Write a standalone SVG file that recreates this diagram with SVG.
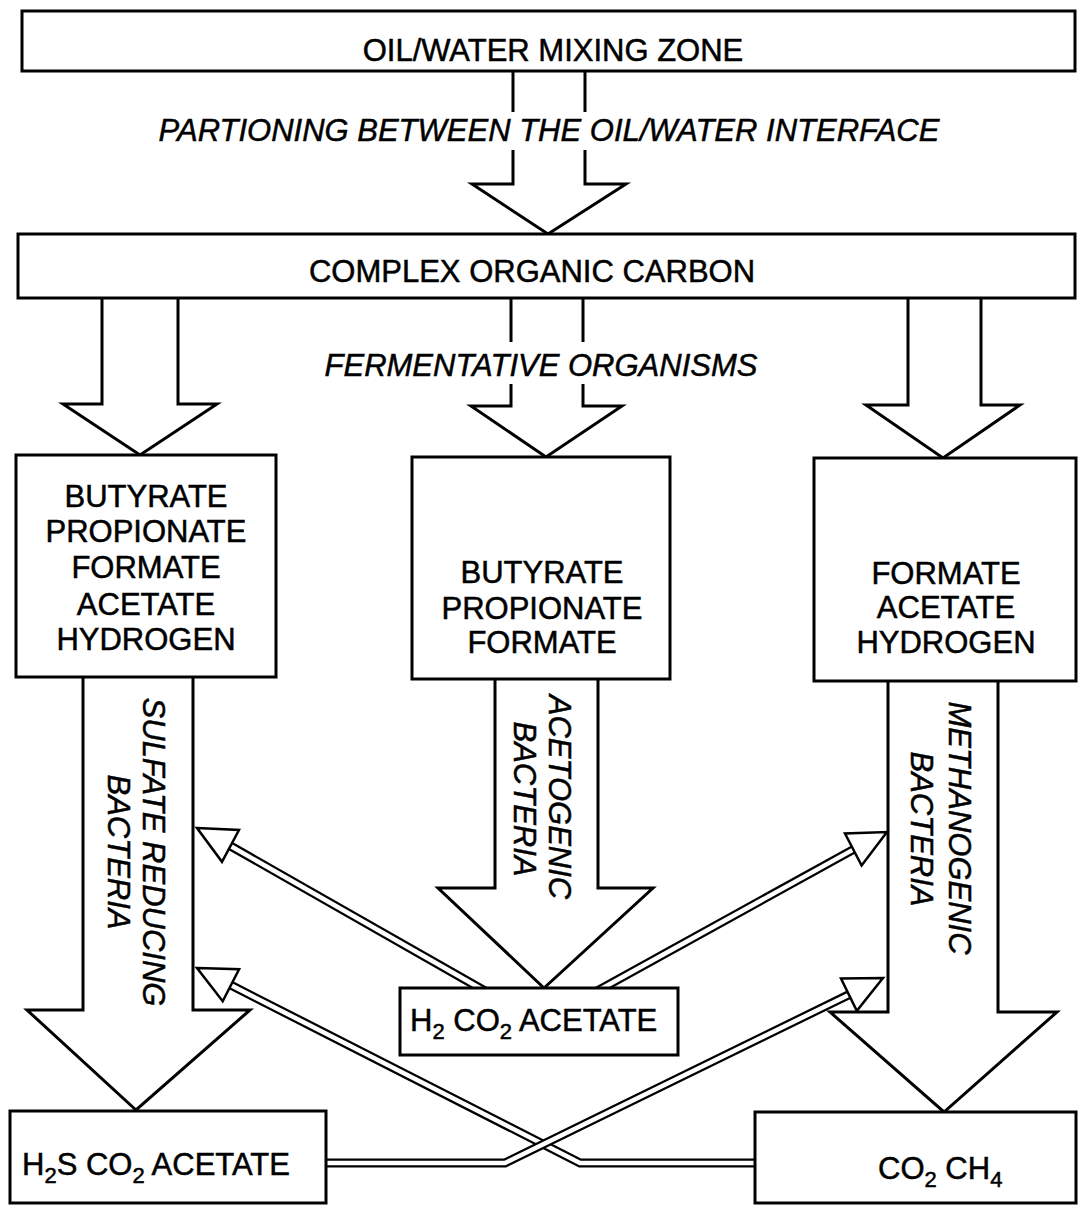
<svg xmlns="http://www.w3.org/2000/svg" width="1078" height="1205" viewBox="0 0 1078 1205">
<style>
text{font-family:"Liberation Sans",Arial,Helvetica,sans-serif;font-size:31px;fill:#000;stroke:#000;stroke-width:0.5}
.it{font-style:italic}
.c{text-anchor:middle}
.box{fill:#fff;stroke:#000;stroke-width:3}
.big{fill:#fff;stroke:#000;stroke-width:3;stroke-linejoin:miter}
.brk{fill:none;stroke:#000;stroke-width:3}
.dlo{fill:none;stroke:#000;stroke-width:9;stroke-linejoin:miter}
.dli{fill:none;stroke:#fff;stroke-width:4.5;stroke-linejoin:miter}
.hd{fill:#fff;stroke:#000;stroke-width:2.5;stroke-linejoin:miter}
.sub{font-size:22px}
</style>
<rect width="1078" height="1205" fill="#fff"/>
<g id="connectors">
  <path class="brk" d="M513,71 V112 M585,71 V112 M513,150 V184 H472 L548,234 L626,184 H585 V150"/>
  <text class="it c" x="549" y="141">PARTIONING BETWEEN THE OIL/WATER INTERFACE</text>
  <path class="big" d="M102,298 V404 H63 L140,455 L217,404 H178 V298"/>
  <path class="brk" d="M511,298 V342 M583,298 V342 M511,384 V406 H471 L546,457 L622,406 H583 V384"/>
  <path class="big" d="M908,298 V405 H866 L943,458 L1020,405 H981 V298"/>
  <text class="it c" x="541" y="376">FERMENTATIVE ORGANISMS</text>
  <path class="big" d="M83,677 V1010 H27 L136,1110 L250,1010 H193 V677"/>
  <path class="big" d="M495,679 V888 H438 L544,988 L653,888 H598 V679"/>
  <path class="big" d="M888,681 V1012 H830 L944,1112 L1057,1012 H998 V681"/>
  <text class="it c" transform="translate(143,852) rotate(90)">SULFATE REDUCING</text>
  <text class="it c" transform="translate(108,852) rotate(90)">BACTERIA</text>
  <text class="it c" transform="translate(549,797) rotate(90)">ACETOGENIC</text>
  <text class="it c" transform="translate(514,799) rotate(90)">BACTERIA</text>
  <text class="it c" transform="translate(949,828) rotate(90)">METHANOGENIC</text>
  <text class="it c" transform="translate(911,829) rotate(90)">BACTERIA</text>
  <path class="dlo" d="M492,995 L227.9,844.5"/>
  <path class="dli" d="M492,995 L227.9,844.5"/>
  <polygon class="hd" points="197,828 239,830 222,861.8"/>
  <path class="dlo" d="M590,995 L855.9,848.1"/>
  <path class="dli" d="M590,995 L855.9,848.1"/>
  <polygon class="hd" points="887,832 861.6,865.5 845,833.5"/>
  <path class="dlo" d="M760,1163 L580,1163 L228.2,983.8"/>
  <path class="dli" d="M760,1163 L580,1163 L228.2,983.8"/>
  <polygon class="hd" points="197,968 239.1,969.2 222.7,1001.2"/>
  <path class="dlo" d="M320,1163 L505,1163 L851.6,993.4"/>
  <path class="dli" d="M320,1163 L505,1163 L851.6,993.4"/>
  <polygon class="hd" points="883,978 856.8,1010.9 841,978.5"/>
</g>
<g id="node-oilwater">
  <rect class="box" x="22" y="11" width="1053" height="60"/>
  <text class="c" x="553" y="61">OIL/WATER MIXING ZONE</text>
</g>
<g id="node-complex">
  <rect class="box" x="18" y="234" width="1057" height="64"/>
  <text class="c" x="532" y="282">COMPLEX ORGANIC CARBON</text>
</g>
<g id="node-left">
  <rect class="box" x="16" y="455" width="260" height="222"/>
  <text class="c" x="146" y="507">BUTYRATE</text>
  <text class="c" x="146" y="542">PROPIONATE</text>
  <text class="c" x="146" y="578">FORMATE</text>
  <text class="c" x="146" y="615">ACETATE</text>
  <text class="c" x="146" y="650">HYDROGEN</text>
</g>
<g id="node-middle">
  <rect class="box" x="412" y="457" width="258" height="222"/>
  <text class="c" x="542" y="583">BUTYRATE</text>
  <text class="c" x="542" y="619">PROPIONATE</text>
  <text class="c" x="542" y="653">FORMATE</text>
</g>
<g id="node-right">
  <rect class="box" x="814" y="458" width="262" height="223"/>
  <text class="c" x="946" y="584">FORMATE</text>
  <text class="c" x="946" y="618">ACETATE</text>
  <text class="c" x="946" y="653">HYDROGEN</text>
</g>
<g id="node-h2co2">
  <rect class="box" x="400" y="988" width="278" height="67"/>
  <text x="410" y="1031">H<tspan class="sub" dy="8">2</tspan><tspan dy="-8"> CO</tspan><tspan class="sub" dy="8">2</tspan><tspan dy="-8"> ACETATE</tspan></text>
</g>
<g id="node-h2s">
  <rect class="box" x="10" y="1111" width="316" height="92"/>
  <text x="22" y="1175">H<tspan class="sub" dy="8">2</tspan><tspan dy="-8">S CO</tspan><tspan class="sub" dy="8">2</tspan><tspan dy="-8"> ACETATE</tspan></text>
</g>
<g id="node-co2ch4">
  <rect class="box" x="755" y="1112" width="321" height="91"/>
  <text x="878" y="1179">CO<tspan class="sub" dy="8">2</tspan><tspan dy="-8"> CH</tspan><tspan class="sub" dy="8">4</tspan></text>
</g>
</svg>
